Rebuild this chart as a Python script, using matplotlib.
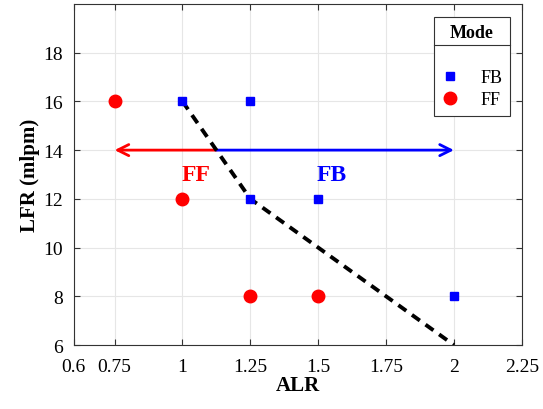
import matplotlib
matplotlib.use("Agg")
import matplotlib.pyplot as plt
from matplotlib.lines import Line2D

plt.rcParams['font.family'] = ['Liberation Serif', 'DejaVu Serif']
plt.rcParams['mathtext.fontset'] = 'stix'

# operating points
fb_alr = [1.0, 1.25, 1.25, 1.5, 2.0]
fb_lfr = [16, 16, 12, 12, 8]
ff_alr = [0.75, 1.0, 1.25, 1.5]
ff_lfr = [16, 12, 8, 8]

# mode boundary
bound_alr = [1.0, 1.25, 2.0]
bound_lfr = [16, 12, 6]

# switching arrows at LFR = 14
arrow_lfr = 14
arrow_split = 1.125
ff_end = 0.75
fb_end = 2.0

xticks = [0.6, 0.75, 1, 1.25, 1.5, 1.75, 2, 2.25]
xticklabels = ['0.6', '0.75', '1', '1.25', '1.5', '1.75', '2', '2.25']
yticks = [6, 8, 10, 12, 14, 16, 18]

fig = plt.figure(figsize=(5.43, 4.10), dpi=100)
ax = fig.add_axes([0.136, 0.156, 0.825, 0.832])

ax.grid(True, color='#e6e6e6', linewidth=0.8)
ax.set_axisbelow(True)

ax.plot(bound_alr, bound_lfr, 'k--', linewidth=2.8, dashes=(2.5, 1.8), zorder=3)

ax.annotate('', xy=(ff_end, arrow_lfr), xytext=(arrow_split, arrow_lfr),
            arrowprops=dict(arrowstyle='->,head_length=0.8,head_width=0.4',
                            color='red', lw=2, shrinkA=0, shrinkB=0), zorder=2)
ax.annotate('', xy=(fb_end, arrow_lfr), xytext=(arrow_split, arrow_lfr),
            arrowprops=dict(arrowstyle='->,head_length=0.8,head_width=0.4',
                            color='blue', lw=2, shrinkA=0, shrinkB=0), zorder=2)
ax.text(1.05, 13.0, 'FF', color='red', fontsize=17, fontweight='bold',
        ha='center', va='center')
ax.text(1.55, 13.0, 'FB', color='blue', fontsize=17, fontweight='bold',
        ha='center', va='center')

ax.plot(fb_alr, fb_lfr, 's', color='blue', markersize=6, linestyle='none',
        label='FB', zorder=4)
ax.plot(ff_alr, ff_lfr, 'o', color='red', markersize=9, linestyle='none',
        label='FF', zorder=4)

ax.set_xlim(0.6, 2.25)
ax.set_ylim(6, 20)
ax.set_xticks(xticks)
ax.set_xticklabels(xticklabels)
ax.set_yticks(yticks)
ax.tick_params(direction='in', top=True, right=True, labelsize=14,
               length=4, color='#333333')
ax.tick_params(axis='x', pad=9)
ax.tick_params(axis='y', pad=8)
for s in ax.spines.values():
    s.set_color('#333333')
    s.set_linewidth(0.8)

ax.set_xlabel('ALR', fontsize=15, fontweight='bold', labelpad=0)
ax.set_ylabel('LFR (mlpm)', fontsize=15, fontweight='bold', labelpad=2)

# blank first entry gives room under the title
blank = Line2D([], [], linestyle='none')
h, l = ax.get_legend_handles_labels()
leg = ax.legend([blank] + h, [' '] + l, title='Mode', loc='upper right',
                bbox_to_anchor=(0.973, 0.962), fontsize=13, fancybox=False,
                edgecolor='#333333', framealpha=1, handletextpad=1.2,
                borderpad=0.4, borderaxespad=0, labelspacing=0.3,
                handlelength=1.0)
leg._legend_box.sep = 4
leg.get_title().set_fontweight('bold')
leg.get_title().set_fontsize(13)
leg.get_frame().set_linewidth(0.8)

# separator line under the legend title
fig.canvas.draw()
inv = fig.transFigure.inverted()
fb = leg.get_frame().get_window_extent()
tb = leg.get_title().get_window_extent()
y_sep = inv.transform((0, tb.y0 - 4))[1]
x0 = inv.transform((fb.x0, 0))[0]
x1 = inv.transform((fb.x1, 0))[0]
fig.add_artist(Line2D([x0, x1], [y_sep, y_sep], color='#333333',
                      linewidth=0.8, transform=fig.transFigure))

fig.savefig('out.png', dpi=100)
